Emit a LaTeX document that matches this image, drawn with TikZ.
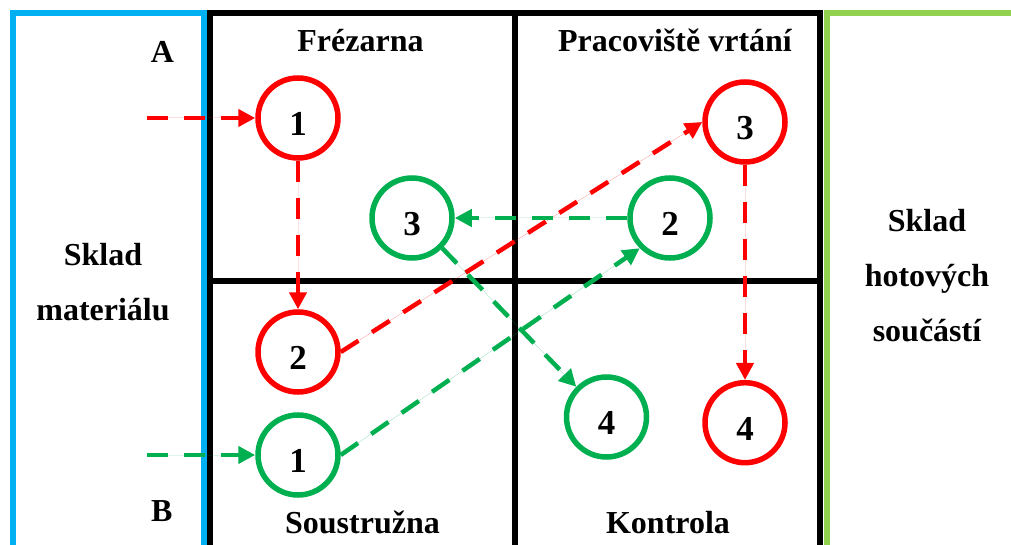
\documentclass[tikz,border=0pt]{standalone}
\usepackage{fontspec}
\setmainfont{Liberation Serif}
\usetikzlibrary{arrows.meta}
\definecolor{cred}{RGB}{255,0,0}
\definecolor{cgreen}{RGB}{0,176,80}
\definecolor{cblue}{RGB}{0,176,240}
\definecolor{clgreen}{RGB}{146,208,80}
\tikzset{
  frame/.style={line width=6pt},
  lbl/.style={font=\fontsize{32}{38}\selectfont\bfseries, anchor=base, inner sep=0pt},
  side/.style={font=\fontsize{32}{55}\selectfont\bfseries, align=center, inner sep=0pt},
  station/.style={circle, draw, line width=5.5pt, minimum size=80pt, inner sep=0pt,
    font=\fontsize{35}{40}\selectfont\bfseries, text height=35pt, text depth=0pt},
  rst/.style={station, draw=cred},
  gst/.style={station, draw=cgreen},
  flow/.style={line width=4.5pt, dash pattern=on 21pt off 16pt,
    -{Triangle[length=17pt,width=17pt]}},
  rflow/.style={flow, draw=cred, fill=cred},
  gflow/.style={flow, draw=cgreen, fill=cgreen}
}
\begin{document}
\begin{tikzpicture}[x=1pt,y=-1pt]
\useasboundingbox (0,0) rectangle (1011,545);
% frames
\draw[frame, cblue] (12.7,560) -- (12.7,12.7) -- (203.5,12.7) -- (203.5,560);
\draw[frame, clgreen] (1030,12.7) -- (827,12.7) -- (827,560);
\draw[frame, black] (210,560) -- (210,12.7) -- (820,12.7) -- (820,560);
\draw[frame, black] (515,12.7) -- (515,560);
\draw[frame, black] (210,280.5) -- (820,280.5);
% labels
\node[lbl] (la) at (162.5,62.7) {A};
\node[lbl] (lb) at (161.7,521.7) {B};
\node[lbl] (frez) at (360.5,51.7) {Frézarna};
\node[lbl] (vrt) at (675,51.7) {Pracoviště vrtání};
\node[lbl] (sous) at (362.5,533) {Soustružna};
\node[lbl] (kont) at (668,533) {Kontrola};
\node[side] (skm) at (103,282.5) {Sklad\\materiálu};
\node[side] (skh) at (927,276) {Sklad\\hotových\\součástí};
% stations
\node[rst] (r1) at (298,118) {1};
\node[rst] (r2) at (298,352) {2};
\node[rst] (r3) at (745,122) {3};
\node[rst] (r4) at (745,422.7) {4};
\node[gst] (g1) at (298,455) {1};
\node[gst] (g2) at (670,218) {2};
\node[gst] (g3) at (412,218) {3};
\node[gst] (g4) at (606.5,417) {4};
% entry points
\coordinate (ina) at (146.7,118);
\coordinate (inb) at (146.7,455);
% flows
\draw[rflow] (ina) -- (r1.west);
\draw[rflow] (r1.south) -- (r2.north);
\draw[rflow] (r2.east) -- (r3.west);
\draw[rflow] (r3.south) -- (r4.north);
\draw[gflow] (inb) -- (g1.west);
\draw[gflow] (g1.east) -- (g2.south west);
\draw[gflow] (g2.west) -- (g3.east);
\draw[gflow] (g3.south east) -- (g4.north west);
\end{tikzpicture}
\end{document}
